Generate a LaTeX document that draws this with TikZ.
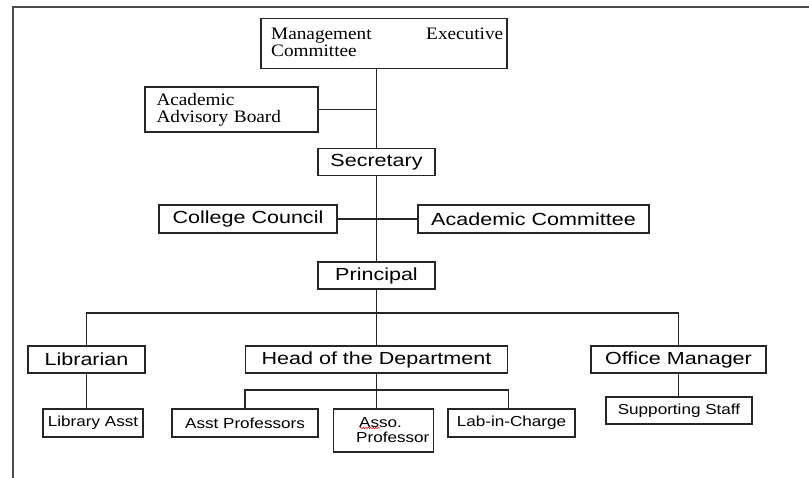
\documentclass[tikz,border=0pt]{standalone}
\usepackage{fontspec}
\setmainfont{Liberation Serif}
\newfontfamily\sansx[FakeStretch=1.23]{Liberation Sans}
\newfontfamily\sansy[FakeStretch=1.18]{Liberation Sans}
\newfontfamily\serifx[FakeStretch=1.1]{Liberation Serif}
\usetikzlibrary{decorations.pathmorphing}
\begin{document}
\begin{tikzpicture}[x=1pt,y=-1pt,
  box/.style={draw=black!85, line width=1.1pt, inner sep=0pt, align=center},
  big/.style={font=\sansx\fontsize{17.5}{19}\selectfont},
  small/.style={font=\sansy\fontsize{14.5}{15}\selectfont},
  serifbox/.style={font=\serifx\fontsize{17.5}{17}\selectfont},
  conn/.style={draw=black!85, line width=1.1pt},
  framestyle/.style={draw=black!70, line width=1.1pt}]
\useasboundingbox (0,0) rectangle (809,478);
% outer frame
\coordinate (ftl) at (13,7);
\coordinate (ftr) at (809,7);
\coordinate (fbl) at (13,478);
\draw[framestyle] (ftr) -- (ftl) -- (fbl);
% top boxes
\node[box, minimum width=246, minimum height=50] (mec) at (384,43.5) {};
\node[serifbox, anchor=north west, text width=232, align=left, inner sep=0pt] (mectext) at (271,27.5) {Management\hfill Executive\\Committee};
\node[box, serifbox, minimum width=173, minimum height=45, text width=150, align=left] (aab) at (231.5,109.5) {Academic\\Advisory Board};
% middle
\node[box, big, minimum width=117, minimum height=27] (sec) at (376.5,162) {Secretary};
\node[box, big, minimum width=178, minimum height=28] (cc) at (248,219) {College Council};
\node[box, big, minimum width=231, minimum height=28] (ac) at (533.5,219) {Academic Committee};
\node[box, big, minimum width=117, minimum height=27] (pri) at (376.5,275.5) {Principal};
% level 3
\node[box, big, minimum width=117, minimum height=27] (lib) at (86.5,359.5) {Librarian};
\node[box, big, minimum width=262, minimum height=27] (hod) at (376.5,359.5) {Head of the Department};
\node[box, big, minimum width=175, minimum height=27] (om) at (678.5,359.5) {Office Manager};
% level 4
\node[box, small, minimum width=100, minimum height=28] (la) at (93,423) {Library Asst};
\node[box, small, minimum width=146, minimum height=28] (ap) at (245,423) {Asst Professors};
\node[box, minimum width=100, minimum height=43] (asso) at (383.5,430.5) {};
\node[small, align=left, inner sep=0pt, anchor=west] (assot) at (356,430.5) {\hspace*{3pt}Asso.\\Professor};
\node[box, small, minimum width=127, minimum height=28] (lab) at (511.5,423) {Lab-in-Charge};
\node[box, small, minimum width=146, minimum height=27] (ss) at (679,410.5) {Supporting Staff};
% spell-check mark
\coordinate (sq1) at (360,428);
\coordinate (sq2) at (380,428);
\draw[red, line width=0.5pt, decorate, decoration={snake, amplitude=0.7pt, segment length=2.5pt}] (sq1) -- (sq2);
% connectors
\draw[conn] (mec.south -| sec.north) -- (sec.north);
\draw[conn] (aab.east) -- (aab.east -| sec.north);
\draw[conn] (sec.south) -- (pri.north);
\draw[conn] (cc.east) -- (ac.west);
\coordinate (bus) at (376.5,313);
\draw[conn] (pri.south) -- (hod.north);
\draw[conn] (lib.north) |- (bus) -| (om.north);
\draw[conn] (lib.south) -- (lib.south |- la.north);
\coordinate (hbus) at (376.5,390);
\draw[conn] (hod.south) -- (hod.south |- asso.north);
\draw[conn] (hod.south west |- ap.north) |- (hbus) -| (hod.south east |- lab.north);
\draw[conn] (om.south) -- (om.south |- ss.north);
\end{tikzpicture}
\end{document}
